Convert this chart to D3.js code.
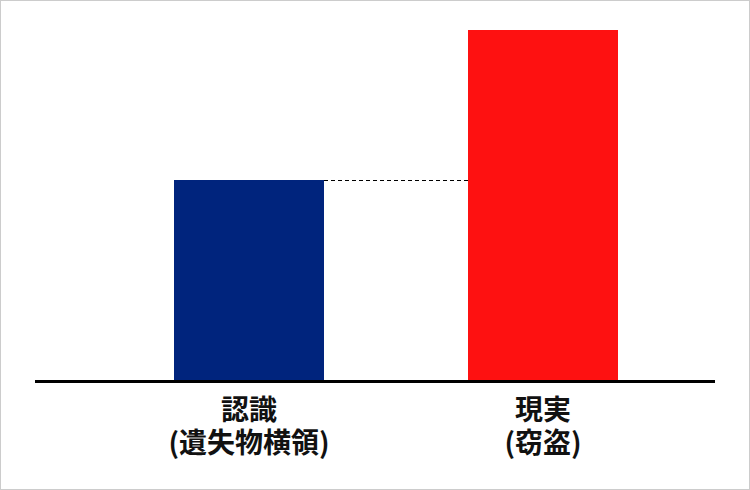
<!DOCTYPE html>
<html lang="ja">
<head>
    <meta charset="UTF-8">
    <title>認識と現実</title>
    <script src="https://d3js.org/d3.v7.min.js"></script>
    <style>
        body, html {
            margin: 0;
            padding: 0;
            background: #fff;
        }
        svg {
            display: block;
        }
        .label {
            font-family: "Noto Sans CJK JP", "Noto Sans", sans-serif;
            font-weight: 700;
            font-size: 28px;
            fill: #111;
        }
    </style>
</head>
<body>
    <div id="chart"></div>
    <script>
        // data
        const categories = ["認識", "現実"];
        const subLabels = ["(遺失物横領)", "(窃盗)"];
        const values = [4, 7];
        const colors = ["#00247d", "#fe1111"];

        const width = 750, height = 490;
        const baseY = 380, topY = 30;

        const svg = d3.select("#chart").append("svg")
            .attr("width", width)
            .attr("height", height);

        // frame
        svg.append("rect")
            .attr("x", 0.5).attr("y", 0.5)
            .attr("width", width - 1).attr("height", height - 1)
            .attr("fill", "#fff")
            .attr("stroke", "#cccccc");

        const x = d3.scaleBand()
            .domain(categories)
            .range([27, 765])
            .paddingInner(1 - 150 / 294)
            .paddingOuter(0.5);

        const y = d3.scaleLinear()
            .domain([0, d3.max(values)])
            .range([baseY, topY]);

        const data = categories.map((c, i) => ({ cat: c, sub: subLabels[i], value: values[i], color: colors[i] }));

        svg.selectAll(".bar")
            .data(data)
            .enter().append("rect")
            .attr("class", "bar")
            .attr("x", d => x(d.cat))
            .attr("width", x.bandwidth())
            .attr("y", d => y(d.value))
            .attr("height", d => baseY - y(d.value))
            .attr("fill", d => d.color);

        // dashed guide from the first bar top to the second bar
        svg.append("line")
            .attr("x1", x(categories[0]) + x.bandwidth())
            .attr("x2", x(categories[1]))
            .attr("y1", y(values[0]) + 0.5)
            .attr("y2", y(values[0]) + 0.5)
            .attr("stroke", "#000")
            .attr("stroke-width", 1)
            .attr("stroke-dasharray", "4,3");

        // baseline
        svg.append("line")
            .attr("x1", 35).attr("x2", 715)
            .attr("y1", baseY + 1.5).attr("y2", baseY + 1.5)
            .attr("stroke", "#000")
            .attr("stroke-width", 3);

        // category labels, two lines each
        svg.selectAll(".label-main")
            .data(data)
            .enter().append("text")
            .attr("class", "label label-main")
            .attr("text-anchor", "middle")
            .attr("x", d => x(d.cat) + x.bandwidth() / 2)
            .attr("y", 420)
            .text(d => d.cat);

        svg.selectAll(".label-sub")
            .data(data)
            .enter().append("text")
            .attr("class", "label label-sub")
            .attr("text-anchor", "middle")
            .attr("x", d => x(d.cat) + x.bandwidth() / 2)
            .attr("y", 453)
            .text(d => d.sub);
    </script>
</body>
</html>
